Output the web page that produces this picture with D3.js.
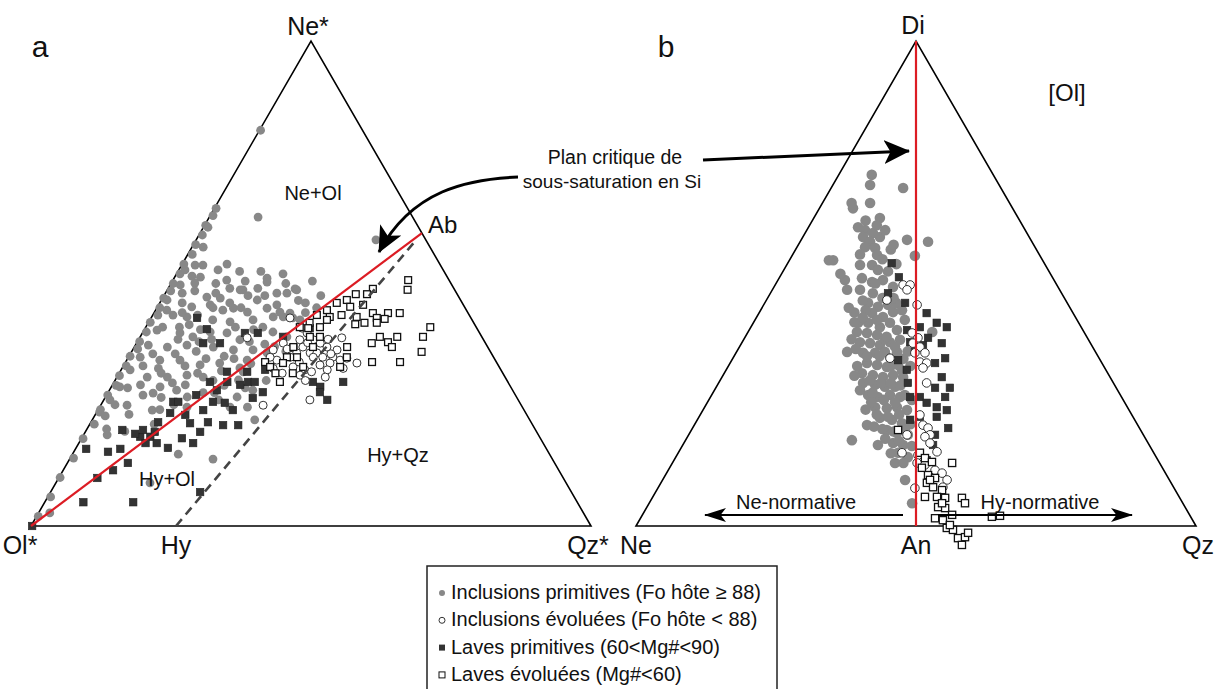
<!DOCTYPE html>
<html><head><meta charset="utf-8">
<script src="https://cdn.jsdelivr.net/npm/d3@7"></script>
<style>
body{margin:0;background:#fff}
svg{display:block}
text{font-family:"Liberation Sans",Arial,Helvetica,sans-serif;fill:#111}
</style>
</head><body>
<svg id="c" width="1216" height="689"></svg>
<script>
// ---------- DATA ----------
// Diagram a : ternary Ol* - Ne* - Qz*, each point = [Qz*%, Ne*%] (Ol* = remainder)
const inclPrimA = [
 [0.3,2],[0.5,6],[0.2,10],[0.6,14],[0.3,18],[0.8,21],[0.4,24],[0.2,27],[0.7,29],[0.3,31],[0.5,33],[0.2,35],
 [0.8,36.5],[0.4,38],[0.6,40],[0.3,42],[0.9,43.5],[0.5,45],[0.2,47],[0.7,48.5],[0.4,50],[0.6,52],[0.3,54],
 [0.8,56],[0.4,58],[0.6,60],[0.2,62],[0.5,64],[0.3,65.5],[0.2,81.6],
 [8.7,63.7],[32.1,59],[0.8,61.6],[2,57.5],[2.4,53.8],[7,52.8],[9.6,50.7],[16.6,51.1],[19.9,48],[22.7,48.9],
 [21.7,48],[13.5,48.7],[1.8,49.7],[4.6,51.3],[3.8,53.8],[1.1,52.8],[4.2,50.1],[13,48.7],[17,50.3],[23.1,48.7],
 [3,48],[7.8,47.2],[10.3,47],[17.1,46.6],[1,46.6],[6.1,45.2],[9.2,45.6],[13.7,44.9],[16.6,44.1],[19.7,44.9],
 [22.4,44.1],[24.3,43.9],[26.8,42.5],[3.6,43.5],[6.3,43.1],[11.2,42.5],[14.5,42.1],[18.4,42.5],[20.9,41],
 [23.2,40],[26.2,39],[2.3,40.4],[6.7,39.8],[9.4,39],[15.1,39.8],[18.1,38.4],[2.3,37.3],[5.9,36.9],[9.2,37.3],
 [14.1,36.9],[18,36.3],[21.5,36.3],[24.3,35.7],[2.1,34.8],[5.9,34.2],[9.5,34.2],[13.6,33.2],[16.9,33.6],
 [21,32.6],[1.6,32.2],[5.4,30.7],[9,30.7],[12.3,31.1],[15.4,30.7],[1.5,28.7],[5,29.1],[8.7,28.7],[13,29.1],
 [23.5,26.6],[25.6,28],[1.1,26],[4.7,24.9],[8.1,27.4],[14.6,26.6],[0.5,23.5],[1.9,22.7],[9.7,23.9],[15.6,24.5],
 [23.3,24.5],[26.4,24.5],[29,21.9],[4.2,18.8],[18.9,14.8],[25.6,13.8],[16.8,8.9],[2,2.7],[22,31.8],[22,30.1],
 [21.5,34.2],[21.7,43.1],[23.5,43.1],[25.3,42.9],[21.1,45.6],[11.5,36],[12,40],[7.5,41.5],[4,46],[11,49],
 [14.8,52.5],[19,52],[26,46],[28.5,45],[19.5,40.5],[25,37],[27.5,36],[19,27.5],[11,33],[17.5,30],[20,29],
 [6.5,32.5],[3.5,20],[7,19.5],[11.5,21],[13,25],[17,35],[10,45],[15,47.5],[8,50],[12,44.5],
 [3,41],[5,44],[8,43.5],[10,40.5],[13,38.5],[16,41],[20,38],[23,37.5],[7,38.5],[4,35.5],[8,35.5],[11,38],
 [14,34.5],[19,34.5],[22.5,33.5],[3.5,33],[7.5,31.5],[10.5,29.5],[14,31.5],[18,32],[3,28.5],[6.5,27],[10,26.5],
 [12,28],[17,27.5],[2.5,25],[6,23],[11,24],[20.5,26],[24,28.5],[27,30],[5,48.5],[9,48],[12.5,46],[15,45],
 [18,47.5],[20.5,50],[24.5,46.5],[27,44],[2,44.5],[6,41],[3,51.5],[8,54],[11,52.5],[13,50.5],[16,49],[25,50.5],[28,47.5]
];
const inclEvolA = [
 [28,40.8],[29.4,39.8],[28.8,38.4],[31.2,38.4],[32.8,37.7],[34.4,36.9],[30.1,36.9],[32,35.7],[33.2,35.7],
 [29.6,35.7],[28.9,34.8],[34.7,34.8],[36.5,34.8],[38.1,34.2],[39.1,34.6],[41.4,33.6],[36.6,33.6],[35,33.2],
 [36.8,32.2],[37.2,30.7],[32.8,32.2],[30.4,32.8],[26.8,34.2],[25.3,34.8],[29.1,31.5],[32.5,31.1],[36.1,38.8],
 [36.8,26],[29,24.9],[24.8,42.9],[26.2,37.7],[25.1,36.3],[19.2,38.8],[33,34.8],[36.5,36.3],
 [31,33.8],[34.2,31.8],[27.5,36.5],[30.5,37.8],[35.8,35.5],[33.8,38.5],[27,32.5],[39.5,32.5],[34,30]
];
const lavePrimA = [
 [0.2,0],[1.9,15.9],[6.9,4.9],[15.8,4.9],[6.9,9.9],[8.9,11.5],[10.8,13],[8,15.9],[12.1,18.4],[10.3,18.4],
 [11.9,17.1],[12.4,19.4],[12.6,25.6],[13.5,25.6],[18.8,23.9],[20.9,21.4],[26.6,20.8],[23.9,20.8],[20.5,19.4],
 [20.4,17.1],[17.9,18.1],[16.4,16.1],[13.9,17.1],[9.1,19],[6.4,19.8],[10.1,19.8],[12,21.4],[17.8,21.2],
 [19.7,25.6],[21.9,25.4],[24.1,23.9],[26.4,26.4],[27.6,27.6],[19.2,28],[20.2,29.7],[22.8,29.1],[23.9,29.7],
 [25.1,29.7],[17.1,29.7],[19.1,31.8],[22.7,31.8],[8.2,42.9],[11.1,40.6],[11.9,37.7],[14.9,37.7],[18.3,39.8],
 [20.6,39.8],[35.5,29.7],[37.3,28.7],[39.9,26],[40.9,29.7],[37.8,27.6],[28.5,36.7],[29.4,40.8],[26.7,7],
 [6.1,15.3],[16,27],[16.1,22.9],[13.2,23.3],[25.7,32.2],[25.5,39]
];
const laveEvolA = [
 [42,50.7],[42.9,48.7],[36.6,48.9],[34.1,47.8],[36.1,47.8],[33.1,46.6],[31.6,46],[34.4,45.2],[36.5,45.6],
 [41.8,43.9],[43.9,43.9],[39.1,43.9],[30.6,44.5],[29.3,43.5],[28.8,41.9],[31.1,41],[31.8,43.1],[33.7,43.5],
 [36.6,43.1],[40.3,42.9],[41.8,42.7],[38.6,41.9],[40.8,41.9],[37.1,41.6],[50.8,41],[50.5,39],[45.9,39],
 [44.8,37.9],[46,36.9],[42.8,39],[42,37.7],[51.8,35.9],[44,33.8],[49,33.8],[38,36.9],[39,34.8],[38.8,32.8],
 [28.4,36.9],[28.3,34.8],[28.2,33.6],[24.9,33.8],[26.3,32.8],[27.9,31.5],[29.6,29.7],[31,31.5],[32.2,32.8],
 [30.1,34.8],[31.9,36.9],[30.3,39],[32.1,39],[31.6,42.5],[27.5,41],[29.1,40.8]
];
// Diagram b : Ne - An - Qz base, Di apex; each point = [signed normative (Ne<0, Qz>0), Di%]
const inclPrimB = [
 [-15.8,72.4],[-16.4,70.3],[-23,66.6],[-22.5,65.5],[-16.4,66.6],[-4.6,69.7],[-12.9,63.5],[-20.7,61.6],[-18.2,61],
 [-15.4,60.4],[-18.9,59.6],[-12.9,59.6],[-16.4,58.6],[-3.2,59],[4.3,58.6],[-18.2,57.5],[-14.6,57.3],[-13.9,55.9],
 [-0.4,55.7],[-29.6,54.8],[-20,53.8],[-15.7,53.8],[-13.6,52.8],[-25.4,50.7],[-19.3,51.1],[-15.7,50.3],[-11.8,50.7],
 [-24.6,48.7],[-20,48.7],[-15.4,48],[-8.2,49.3],[-17.1,46],[-13.6,45.2],[-10,45.6],[-15.7,43.9],[-11.8,43.1],
 [-8.2,44.1],[-20.7,41.9],[-17.1,41.9],[-12.9,41],[-9.3,41.9],[-6.8,40.4],[-21.1,40],[-17.5,39.8],[-13.9,39.4],
 [-20,37.9],[-16.4,37.7],[-12.9,37.3],[-9.3,37.9],[-5.7,38.4],[-24.6,35.9],[-18.9,35.7],[-14.6,35.7],[-11.1,35.9],
 [-6.8,35.9],[-17.5,33.6],[-13.9,33.2],[-10.4,32.8],[-6.4,33.2],[-19.3,31.5],[-15.4,31.1],[-11.8,30.7],[-8.2,31.1],
 [-4.6,30.7],[-18.9,29.5],[-14.6,29.1],[-11.1,28.7],[-7.5,28.7],[-17.1,27],[-13.6,26.6],[-9.3,27],[-5.7,26.6],
 [-14.6,24.5],[-10.4,24.3],[-6.8,24.5],[-3.2,23.9],[-17.5,20.8],[-12.9,22.3],[-8.6,21.9],[-5,21.2],[-10.4,19.8],
 [-6.8,19.2],[-2.9,18.8],[-22.9,17.7],[-13.6,16.7],[-8.2,17.1],[-4.6,16.7],[-6.4,15.1],[-2.9,14.2],[-3.9,9.5],
 [-1.4,4.7],[-31.1,54.8],[-22,44],[-18,44.5],[-10,47.5],[-7,46],[-4,42.5],[-3,36],[-2,33],[-21,33],[-23,38.5],
 [-9,34.5],[-16,25.5],[-12,20],[-7.5,13],[-10,52.5],[-7,54],[-1.5,26],[-2,21],[5.8,40],[-19,46.5],[-11,38.5],
 [-22,42],[-19,43],[-14,42.5],[-10.5,39],[-7.5,37],[-4.5,34.5],[-21.5,36.5],[-17.5,35],[-13,35],[-9,33],[-5,32],
 [-22,31],[-16.5,30],[-12.5,29.5],[-9,29.5],[-5.5,29],[-20,28],[-15.5,27.5],[-11.5,26],[-7.5,25.5],[-4,27],
 [-18,24],[-14,23],[-10,22.5],[-6,23],[-15,20.5],[-8,19.5],[-4,20],[-11,18],[-6,17.5],[-1.5,16.5],[-9,15],
 [-4.5,13],[-12,47],[-14.5,50],[-8,47],[-5,44.5],[-12,55],[-9,57],[-20,56],[-24,45],[-27,52],[-18,63],[-14,62],
 [-11,61],[-8,58]
];
const inclEvolB = [
 [-4.6,49.7],[-2.1,49.7],[-3.2,48.7],[-10.4,46.6],[0.4,45.6],[-1.4,39.8],[0.7,38.8],[-1.1,37.7],[1.4,36.9],
 [-0.4,35.7],[3.2,35.7],[1.4,33.8],[3.8,33.6],[2.5,32.6],[3.8,29.5],[-9.3,34.6],[1.4,22.9],[2.5,20.8],[4.3,20.2],
 [5,18.8],[3.2,18.4],[-3.2,18.8],[-5,15.1],[0.7,14.6],[0.4,13],[3.2,12.6],[6.8,11.5],[9.3,10.9],[11.1,9.5],
 [9.6,8],[-0.4,7.8],[7.5,15.3],[5,17.1]
];
const lavePrimB = [
 [-8.7,54.2],[-6.1,51.3],[3.8,43.9],[7.4,41.9],[11,41],[4.3,38.8],[-2.1,37.9],[10.4,34.6],[6.8,33.6],[9.2,30.7],
 [12.1,28.5],[6.8,28.5],[-3.3,32.2],[-2.9,29.5],[-2.1,26.6],[1.4,26.6],[3.8,25.4],[7.4,24.5],[11,23.9],[10.4,26.6],
 [7.4,22.5],[11.5,20.2],[6.8,18.8],[1.4,22.5],[-2.1,21.9],[6.1,16.7],[3.8,13.6],[-3.9,46],[-0.4,36.3],
 [1.4,41],[-10,48],[-6.4,34.2],[-3.2,40.4],[2.5,37.3],[9.2,37.7]
];
const laveEvolB = [
 [-6.4,19.8],[1.4,15.1],[3.2,14],[5.7,13.2],[4.3,10.5],[6.8,9.9],[3.9,8.9],[6.1,8],[9.3,7.4],[3.2,6],[7.5,6],
 [10.4,5.8],[7.9,3.9],[10.4,3.7],[6.8,1.6],[9.6,1.2],[11,-0.4],[15,-2.5],[17.5,-2.3],[18.6,-1.4],[16.4,-3.9],
 [13.2,-0.8],[16.4,5.8],[17.5,4.7],[27.1,1.9],[30,2.1],[2.1,12],[5,9.5],[9.3,4.7],[12.1,0.2],[12.9,2.3],[12.9,13]
];
// reference points
const triA = [[0,0],[100,0],[0,100]];          // Ol*, Qz*, Ne*
const ptAb = [39.6,60.4];
const ptHy = [25.9,0];
const triB = [[-100,0],[100,0],[0,100]];       // Ne, Qz, Di
const ptAn = [0,0], ptDi = [0,100];
const legendLabels = [
 "Inclusions primitives (Fo hôte ≥ 88)",
 "Inclusions évoluées (Fo hôte < 88)",
 "Laves primitives (60<Mg#<90)",
 "Laves évoluées (Mg#<60)"
];

// ---------- DRAW ----------
const svg = d3.select("#c");
svg.append("rect").attr("width",1216).attr("height",689).attr("fill","#fff");
const defs = svg.append("defs");
function mk(id,w,h){
  defs.append("marker").attr("id",id).attr("viewBox",`0 0 ${w} ${h}`)
   .attr("refX",w-1).attr("refY",h/2).attr("markerWidth",w).attr("markerHeight",h)
   .attr("markerUnits","userSpaceOnUse").attr("orient","auto")
   .append("path").attr("d",`M0,0 L${w},${h/2} L0,${h} L${w*0.25},${h/2} Z`).attr("fill","#000");
}
mk("ahS",22,14); mk("ahB",26,24);

const xA = d3.scaleLinear().domain([0,100]).range([31,591]);
const yA = d3.scaleLinear().domain([0,100]).range([526,41]);
const xB = d3.scaleLinear().domain([-100,100]).range([636,1196]);
const yB = d3.scaleLinear().domain([0,100]).range([526,41]);
const pA = d => [xA(d[0] + d[1]/2), yA(d[1])];
const pB = d => [xB(d[0]), yB(d[1])];
const line = d3.line();

const gA = svg.append("g"), gB = svg.append("g");
gA.append("path").attr("d", line(triA.map(pA))+"Z").attr("fill","none").attr("stroke","#000").attr("stroke-width",1.6);
gB.append("path").attr("d", line(triB.map(pB))+"Z").attr("fill","none").attr("stroke","#000").attr("stroke-width",1.6);

function draw(g, data, proj, type){
  const sel = g.append("g");
  const isA = g===gA;
  data.forEach(d=>{
    const [x,y] = proj(d);
    if(type==="gray") sel.append("circle").attr("cx",x).attr("cy",y).attr("r",isA?4.4:5.3).attr("fill","#888");
    else if(type==="ocirc") sel.append("circle").attr("cx",x).attr("cy",y).attr("r",isA?4:4.3).attr("fill","#fff").attr("stroke","#333").attr("stroke-width",1);
    else if(type==="bsq"){const s=7.5; sel.append("rect").attr("x",x-s/2).attr("y",y-s/2).attr("width",s).attr("height",s).attr("fill","#333").attr("stroke","#222").attr("stroke-width",0.6);}
    else {const s=isA?6.8:7.2; sel.append("rect").attr("x",x-s/2).attr("y",y-s/2).attr("width",s).attr("height",s).attr("fill","#fff").attr("stroke","#111").attr("stroke-width",1.3);}
  });
}
draw(gA, inclPrimA, pA, "gray");
draw(gA, lavePrimA, pA, "bsq");
draw(gA, inclEvolA, pA, "ocirc");
draw(gA, laveEvolA, pA, "osq");
draw(gB, inclPrimB, pB, "gray");
draw(gB, lavePrimB, pB, "bsq");
draw(gB, inclEvolB, pB, "ocirc");
draw(gB, laveEvolB, pB, "osq");

gA.append("path").attr("d", line([pA(ptHy), pA([ptHy[0]+0.965*(ptAb[0]-ptHy[0]), 0.965*ptAb[1]])]))
  .attr("stroke","#444").attr("stroke-width",2.6).attr("stroke-dasharray","9,6").attr("fill","none");
gA.append("path").attr("d", line([pA(triA[0]), pA(ptAb)])).attr("stroke","#dc1c24").attr("stroke-width",2.2).attr("fill","none");
gB.append("path").attr("d", line([pB(ptAn), pB(ptDi)])).attr("stroke","#dc1c24").attr("stroke-width",2.2).attr("fill","none");

function txt(x,y,t,size,anchor){svg.append("text").attr("x",x).attr("y",y).attr("font-size",size).attr("text-anchor",anchor||"middle").text(t);}
txt(40,57,"a",30); txt(666,57,"b",30);
txt(308,35,"Ne*",25); txt(20,554,"Ol*",25); txt(176,554,"Hy",25); txt(588,554,"Qz*",25);
txt(428,233,"Ab",24,"start");
txt(313,200,"Ne+Ol",20); txt(167,486,"Hy+Ol",20); txt(398,462,"Hy+Qz",20);
txt(913,34,"Di",25); txt(636,554,"Ne",25); txt(916,554,"An",25); txt(1198,554,"Qz",25);
txt(1067,101,"[Ol]",24);
txt(615,164,"Plan critique de",19.5); txt(612,188,"sous-saturation en Si",19);
txt(796,509,"Ne-normative",20); txt(1040,509,"Hy-normative",20);

svg.append("path").attr("d","M703,160 L909,151").attr("stroke","#000").attr("stroke-width",3).attr("fill","none").attr("marker-end","url(#ahB)");
svg.append("path").attr("d","M518,177 C468,179 412,190 379,252").attr("stroke","#000").attr("stroke-width",3).attr("fill","none").attr("marker-end","url(#ahB)");
svg.append("path").attr("d","M903,515 L705,515").attr("stroke","#000").attr("stroke-width",2).attr("fill","none").attr("marker-end","url(#ahS)");
svg.append("path").attr("d","M938,515 L1132,515").attr("stroke","#000").attr("stroke-width",2).attr("fill","none").attr("marker-end","url(#ahS)");

const lg = svg.append("g");
lg.append("rect").attr("x",427).attr("y",566).attr("width",350).attr("height",140).attr("fill","none").attr("stroke","#222").attr("stroke-width",1.5);
const types = ["gray","ocirc","bsq","osq"];
legendLabels.forEach((t,i)=>{
  const y = 592 + i*27.3;
  const ty = types[i];
  if(ty==="gray") lg.append("circle").attr("cx",442).attr("cy",y+1).attr("r",3).attr("fill","#888");
  else if(ty==="ocirc") lg.append("circle").attr("cx",442).attr("cy",y+1).attr("r",3).attr("fill","#fff").attr("stroke","#333").attr("stroke-width",1);
  else if(ty==="bsq") lg.append("rect").attr("x",439).attr("y",y-2).attr("width",6).attr("height",6).attr("fill","#333");
  else lg.append("rect").attr("x",439).attr("y",y-2).attr("width",6).attr("height",6).attr("fill","#fff").attr("stroke","#111").attr("stroke-width",1);
  lg.append("text").attr("x",451).attr("y",y+7).attr("font-size",20).text(t);
});
</script>
</body></html>
